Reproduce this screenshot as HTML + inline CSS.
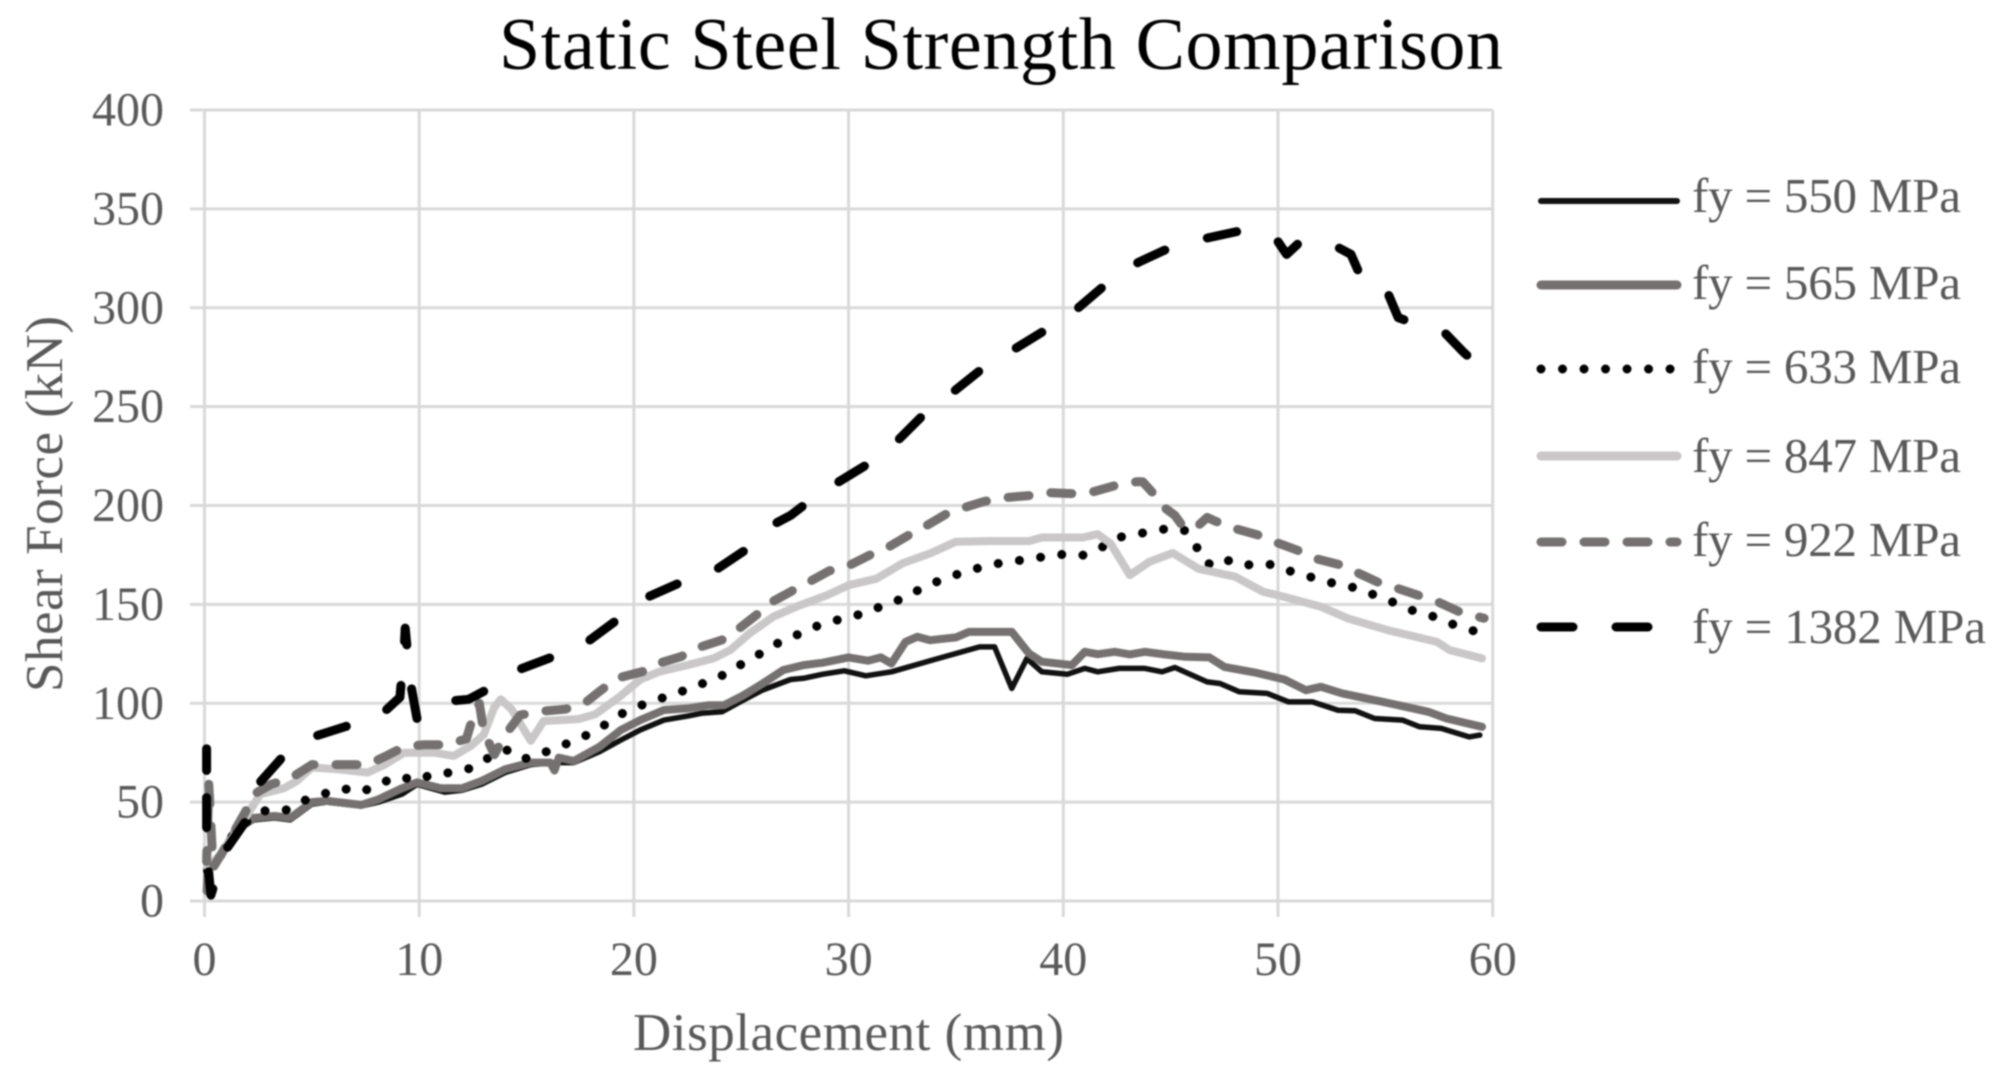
<!DOCTYPE html>
<html lang="en">
<head>
<meta charset="utf-8">
<title>Static Steel Strength Comparison</title>
<style>
html,body{margin:0;padding:0;background:#fff;width:1998px;height:1087px;overflow:hidden}
svg{display:block;filter:blur(0.75px)}
text{font-family:"Liberation Serif",serif}
.tick{font-size:48px;fill:#595959}
.axis-title{font-size:53px;fill:#595959}
.legend-text{font-size:49px;fill:#595959}
.chart-title{font-size:74px;fill:#000000}
</style>
</head>
<body>
<svg id="chart" xmlns="http://www.w3.org/2000/svg" width="1998" height="1087" viewBox="0 0 1998 1087">
  <rect x="0" y="0" width="1998" height="1087" fill="#ffffff"/>
  <text class="chart-title" x="499" y="69" textLength="1004">Static Steel Strength Comparison</text>
  <g id="grid"></g>
  <g id="ticks"></g>
  <g id="series"></g>
  <text class="axis-title" x="633" y="1050" textLength="431">Displacement (mm)</text>
  <text class="axis-title" transform="translate(62,692) rotate(-90)" x="0" y="0" textLength="376">Shear Force (kN)</text>
  <g>
    <g>
      <line x1="1541" y1="201" x2="1677" y2="201" stroke="#111111" stroke-width="6" stroke-linecap="round"/>
      <text class="legend-text" x="1692" y="212" textLength="269">fy = 550 MPa</text>
    </g>
    <g>
      <line x1="1541" y1="285" x2="1677" y2="285" stroke="#767171" stroke-width="9" stroke-linecap="round"/>
      <text class="legend-text" x="1692" y="299" textLength="269">fy = 565 MPa</text>
    </g>
    <g>
      <line x1="1541" y1="369" x2="1677" y2="369" stroke="#000000" stroke-width="9" stroke-linecap="round" stroke-dasharray="0.01 21.5"/>
      <text class="legend-text" x="1692" y="383" textLength="269">fy = 633 MPa</text>
    </g>
    <g>
      <line x1="1541" y1="456" x2="1677" y2="456" stroke="#c9c7c7" stroke-width="9" stroke-linecap="round"/>
      <text class="legend-text" x="1692" y="472" textLength="269">fy = 847 MPa</text>
    </g>
    <g>
      <line x1="1541" y1="542" x2="1677" y2="542" stroke="#767171" stroke-width="9" stroke-linecap="round" stroke-dasharray="21 22"/>
      <text class="legend-text" x="1692" y="556" textLength="269">fy = 922 MPa</text>
    </g>
    <g>
      <line x1="1541" y1="627" x2="1677" y2="627" stroke="#000000" stroke-width="9" stroke-linecap="round" stroke-dasharray="32 43"/>
      <text class="legend-text" x="1692" y="643" textLength="294">fy = 1382 MPa</text>
    </g>
  </g>
</svg>
<script>
const xTicks = [0, 10, 20, 30, 40, 50, 60];
const yTicks = [0, 50, 100, 150, 200, 250, 300, 350, 400];

const x550 = [0.1,0.15,0.8,1.4,2.3,3.26,4,5,5.7,7.3,8.1,9.2,9.9,11.2,12,12.9,14,15.2,16.3,17.2,18.4,19.4,20.3,21.4,22.5,23.2,24.1,25.1,26,27.3,27.9,28.8,29.8,30.8,32,34,36.1,36.8,37.6,38.3,39,40.2,41,41.6,42.6,43.8,44.6,45.2,46.7,47.3,48.2,49.5,50.5,51.6,52.8,53.6,54.5,55.8,56.6,57.6,58.9,59.4];
const y550 = [5,17,23.6,35,41,42,41,49,50,48,50,54,59,55,56,59,65,69,70,70,75.5,81.4,86.5,91.5,93.5,95,95.7,101.6,106.7,112,112.6,114.7,116.4,113.9,115.9,122.1,128.5,128.5,107.5,122.6,115.9,114.7,117.6,115.9,117.6,117.6,115.9,118.1,110.8,110,105.8,105,100.7,100.7,96.5,96.2,92.3,91.5,88.1,87.3,83,83.9];

const x565 = [0.1,0.15,0.8,1.4,2.3,3.26,4,5,5.7,7.3,8.1,9.2,9.9,11,12,12.9,14,15.2,16.1,16.3,16.5,17.2,18.4,19.4,20.3,21.4,22.5,23.5,24.2,25.1,26,26.96,27.9,28.8,30,30.9,31.5,32,32.65,33.2,33.8,35,35.6,37.6,38.4,39,40.4,41,41.6,42.4,43.1,43.8,44.7,45.7,46.8,47.5,48.9,50.3,51.3,52,53,54.9,57,57.85,59.5];
const y565 = [5,17,23.6,35,42,43,42,50,50.6,48.6,51.4,57,60,57,57,60.7,66.6,70,70,66,72.5,70.8,78,86.5,91.5,96.6,97.4,99,99,104,110,116.8,119.3,120.5,123.2,121.5,123.2,120.1,131,133.6,131.9,133.3,136.1,136.1,125.2,121,119.3,126,124.8,126,124.7,126,124.7,123.5,123.2,118.4,115.6,112,106.6,108.3,105,100.7,95.7,92.3,88.1];

const x633 = [0.1,0.15,0.8,1.4,2.3,2.9,3.8,4.7,5.5,6.4,7.3,8.1,9,9.9,10.7,11.7,12.5,13.3,14.2,15,15.8,16.6,17.5,18.4,19.2,20.1,21,22,22.9,23.8,24.7,25.6,26.4,27.3,28.2,29.2,30.2,31.1,32.1,33,33.9,34.8,35.8,36.8,37.8,38.8,39.8,40.8,41.7,42.6,43.6,44.6,45.6,46.1,46.5,47.1,47.8,48.8,49.7,50.7,51.6,52.6,53.6,54.6,55.5,56.4,57.4,58.3,59.3];
const y633 = [5,17,23.6,35,43,46,46,51,54,57,55,59,63,61,64.4,65,67.5,72.9,76.7,72,75,78.4,82.3,87.2,93.5,98,101.6,105,109,112,118,123,129,133,137.8,141.5,143.7,147.4,151,155.9,160.6,164.3,167.7,170.4,172,173.6,175.3,174.4,178.3,183.9,185.9,188,187.9,181.7,172,169,172.7,169.5,170.2,166.3,163.6,160.6,158.4,154.3,150.5,146.3,143.4,139.2,136];

const x847 = [0.1,0.15,0.8,1.9,2.6,3.7,4.3,5,6.2,7.6,8.4,9.3,10.7,11.6,12.4,13,13.5,13.8,14.3,15.2,15.8,17.4,18.2,19.3,20.3,21.2,22.5,23.7,24.5,25.4,26.5,27.6,29,30,31.3,32.5,33.8,35,36.5,38.4,39,40.9,41.6,42.2,43.1,44,45.1,46.3,48,49.3,50.3,52,53.25,55.1,57.4,58,59.5];
const y847 = [20,17,24,42,54,57,60.7,67.5,66.6,65,69,75,75,73.4,78.4,84,98,102,97,81,91,92,94.4,103,112,116,119.3,122.7,127,135.4,143.8,149,154.7,159.7,163,170.7,175.8,181.7,182,182,183.8,183.8,185.5,180.8,164.8,171.5,176,168,164,156.4,153.8,148.8,142.9,137,131,126.9,122.7];

const x922 = [0.1,0.2,0.4,0.8,1.9,2.3,3.1,4,5,5.7,7.6,8.4,9.3,10.2,11.3,12.2,12.5,12.8,13,13.5,14,14.7,15.7,16.8,17.7,18.4,19.2,20.4,21.1,22.2,22.9,24.1,24.8,25.7,26.3,27.4,28.1,29.1,29.9,31,31.7,32.8,33.5,34.6,35.4,36.3,37.3,38.4,39.3,40.4,41.4,42.4,43.4,43.7,44.2,44.7,45.2,45.6,46.2,46.7,47.1,48.1,49.1,50,51,51.8,52.9,53.7,54.7,55.6,56.7,57.5,58.5,59.6];
const y922 = [20,59,17,24,45,54,59,62,69,69,69,73,78,79,79,82,93,100,86,74,84,94,96,97,100,106,112.6,116,120,123.6,127.8,132,137,144.6,150.5,157,161,167,169,175,178,185,189,196,199,202,204,205,206.5,206,207,210,212,212,206,199,195,189,189,194,192,188,185,181,177,173,170,166,161,158,154,151,146,143];

const x1382 = [0.1,0.1,0.1,0.3,0.7,1,1.9,2.5,3.65,5.05,6.5,8.2,9.1,9.3,9.35,9.6,9.9,11.3,12.3,13,14.4,16.1,17.7,19,20.5,22.1,23.8,25.2,26.6,27.3,27.9,29.4,30.9,32.3,33.5,34.7,36.2,37.8,39.3,40.7,42,43.5,45.1,46.6,48.3,49.9,50.4,51.1,52.7,53.4,53.8,54.9,55.6,57.1,57.8,58.6,59.2];
const y1382 = [66,77,25,3,17,26,40,59,73,83,88,94,103,128,138,110,92,101,102,106,116,123,130,140.4,153,160.7,167.4,177.5,191,195,200,211,221,233,246,256,269,279.6,289.6,300,312,323,331,335,339,335,327,334,331,327,317,313,295,289,287,278,272];

const seriesNames = ['550', '565', '633', '847', '922', '1382'];
const seriesX = [x550, x565, x633, x847, x922, x1382];
const seriesY = [y550, y565, y633, y847, y922, y1382];
const seriesColor = ['#111111', '#767171', '#000000', '#c9c7c7', '#767171', '#000000'];
const seriesWidth = [5.5, 8, 9, 8, 9, 9];
const seriesDash = ['', '', '0.01 21.4', '', '21 22', '30 44.3'];
const seriesDashPhase = [0, 0, 1, 0, 10, 3.6];

const SVG_NS = 'http://www.w3.org/2000/svg';
const xScale = v => 204.5 + v * 21.47;
const yScale = v => 901 - v * 1.9775;

const grid = document.getElementById('grid');
const tickGroup = document.getElementById('ticks');
const seriesGroup = document.getElementById('series');

function makeLine(x1, y1, x2, y2, width) {
  const l = document.createElementNS(SVG_NS, 'line');
  l.setAttribute('x1', x1);
  l.setAttribute('y1', y1);
  l.setAttribute('x2', x2);
  l.setAttribute('y2', y2);
  l.setAttribute('stroke', '#d9d9d9');
  l.setAttribute('stroke-width', width);
  return l;
}

yTicks.forEach(v => {
  const l = makeLine(190, yScale(v), xScale(60), yScale(v), 3);
  
  
  grid.appendChild(l);
  const t = document.createElementNS(SVG_NS, 'text');
  
  
  t.setAttribute('class', 'tick');
  t.setAttribute('x', 164);
  t.setAttribute('y', yScale(v) + 15.5);
  t.setAttribute('text-anchor', 'end');
  t.textContent = v;
  tickGroup.appendChild(t);
});

xTicks.forEach(v => {
  const l = makeLine(xScale(v), yScale(400), xScale(v), 917, 3);
  
  
  grid.appendChild(l);
  const t = document.createElementNS(SVG_NS, 'text');
  
  
  t.setAttribute('class', 'tick');
  t.setAttribute('x', xScale(v));
  t.setAttribute('y', 975);
  t.setAttribute('text-anchor', 'middle');
  t.textContent = v;
  tickGroup.appendChild(t);
});

seriesNames.forEach((name, i) => {
  const d = seriesX[i].map((xv, j) => (j ? 'L' : 'M') + xScale(xv).toFixed(1) + ' ' + yScale(seriesY[i][j]).toFixed(1)).join(' ');
  const p = document.createElementNS(SVG_NS, 'path');
  
  
  p.setAttribute('d', d);
  p.setAttribute('fill', 'none');
  p.setAttribute('stroke', seriesColor[i]);
  p.setAttribute('stroke-width', seriesWidth[i]);
  p.setAttribute('stroke-linecap', 'round');
  p.setAttribute('stroke-linejoin', 'round');
  if (seriesDash[i]) {
    p.setAttribute('stroke-dasharray', seriesDash[i]);
    p.setAttribute('stroke-dashoffset', seriesDashPhase[i]);
  }
  seriesGroup.appendChild(p);
});
</script>
</body>
</html>
